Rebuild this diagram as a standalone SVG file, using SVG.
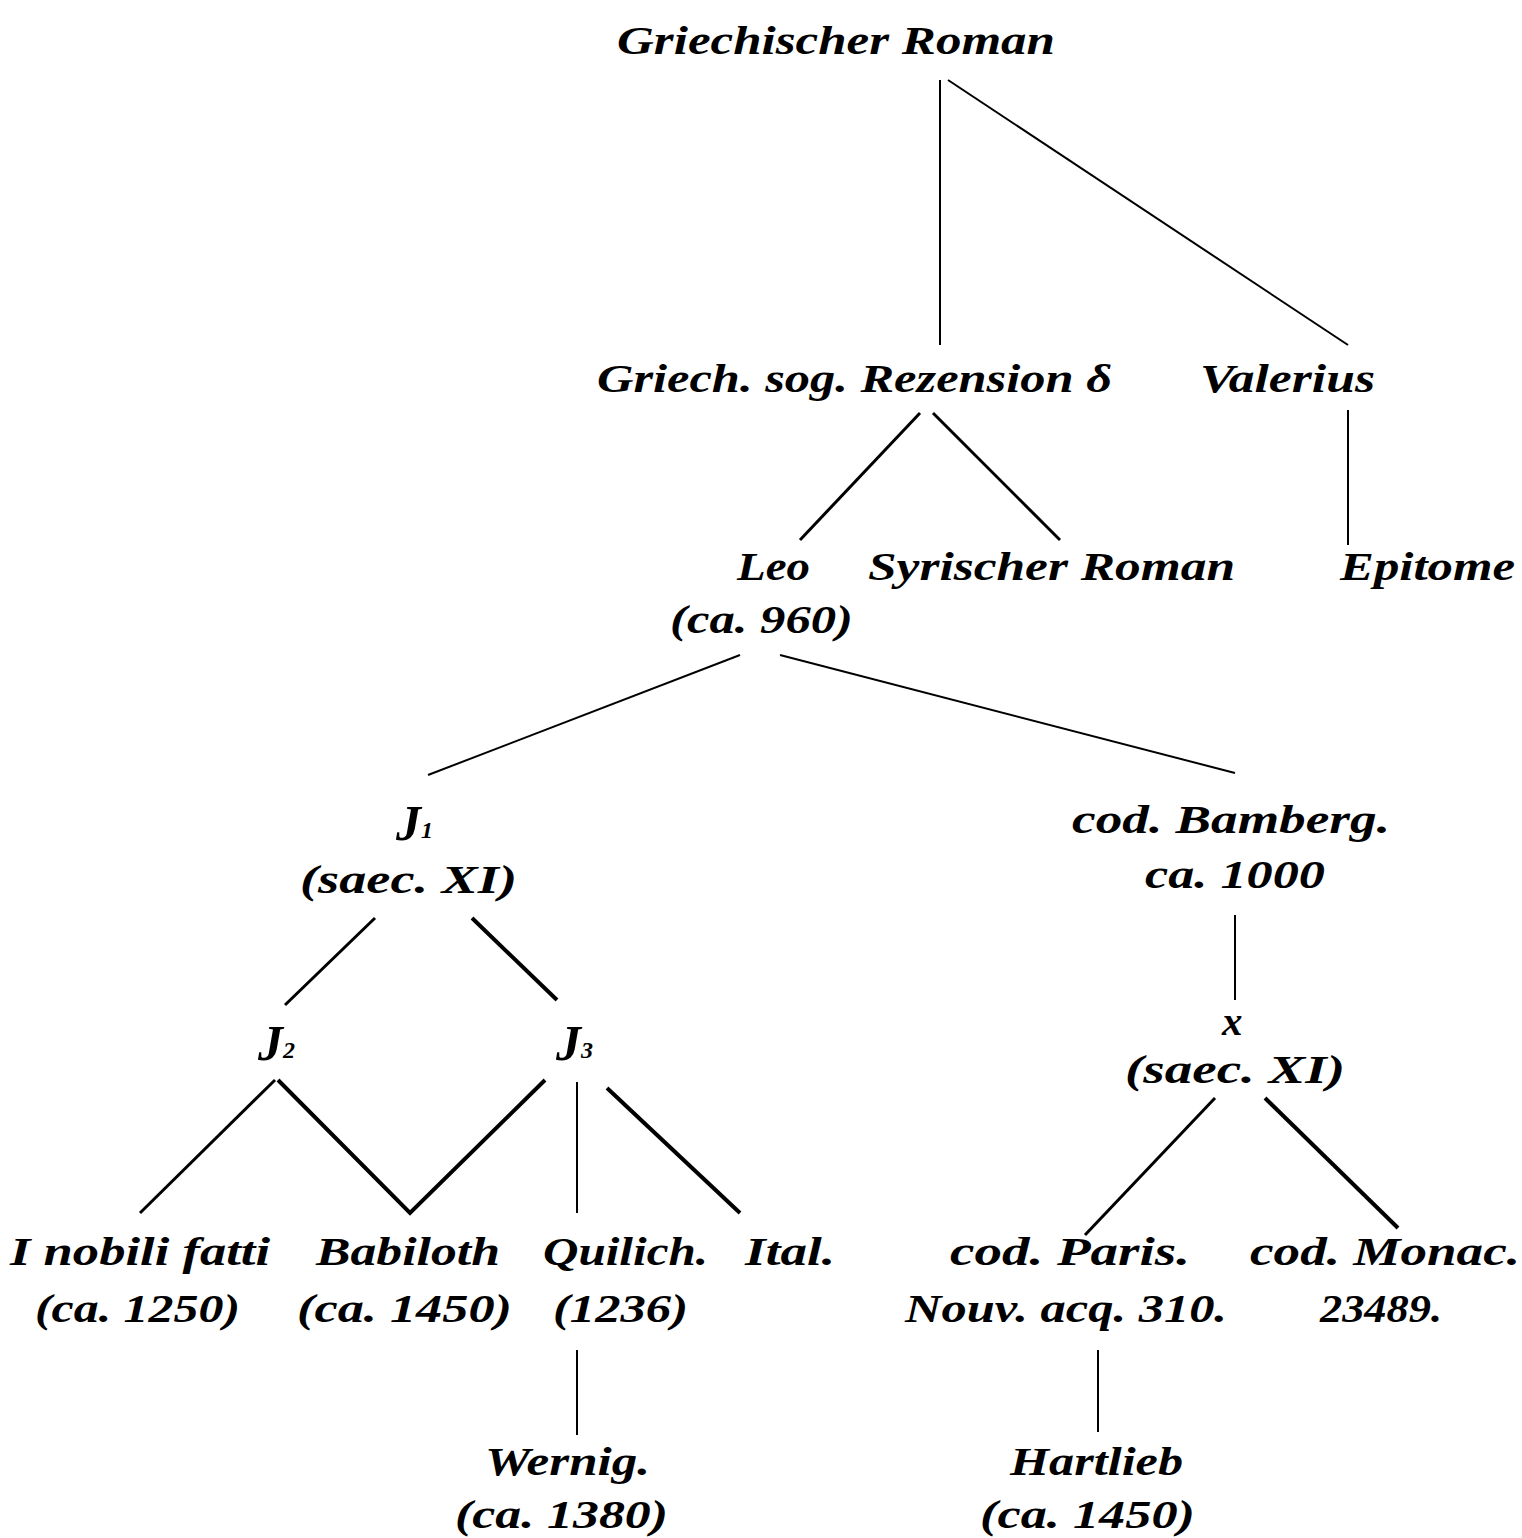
<svg xmlns="http://www.w3.org/2000/svg" width="1522" height="1538" viewBox="0 0 1522 1538">
<style>
text{font-family:"Liberation Serif","DejaVu Serif",serif;font-style:italic;font-weight:bold;font-size:41px;fill:#000}
.j{font-size:50px}
.sub{font-size:24px}
.c line,.c polyline{stroke:#000;fill:none;stroke-linecap:butt}
.t{stroke-width:2}
.m{stroke-width:3}
.k{stroke-width:4}
</style>
<rect width="1522" height="1538" fill="#fff"/>
<g class="c" id="connectors">
<line class="t" x1="940" y1="80" x2="940" y2="345"/>
<line class="t" x1="948" y1="80" x2="1348" y2="345"/>
<line class="t" x1="1348" y1="410" x2="1348" y2="545"/>
<line class="m" x1="920" y1="413" x2="800" y2="540"/>
<line class="m" x1="933" y1="413" x2="1060" y2="540"/>
<line class="t" x1="740" y1="655" x2="428" y2="775"/>
<line class="t" x1="780" y1="655" x2="1235" y2="773"/>
<line class="m" x1="375" y1="918" x2="285" y2="1005"/>
<line class="k" x1="472" y1="918" x2="557" y2="1000"/>
<line class="m" x1="275" y1="1080" x2="140" y2="1213"/>
<polyline class="k" points="278,1080 410,1213 545,1080"/>
<line class="t" x1="577" y1="1082" x2="577" y2="1213"/>
<line class="k" x1="607" y1="1088" x2="740" y2="1213"/>
<line class="t" x1="1235" y1="915" x2="1235" y2="1000"/>
<line class="m" x1="1215" y1="1098" x2="1085" y2="1235"/>
<line class="k" x1="1265" y1="1098" x2="1398" y2="1228"/>
<line class="t" x1="577" y1="1350" x2="577" y2="1435"/>
<line class="t" x1="1098" y1="1350" x2="1098" y2="1432"/>
</g>
<g id="n-griechischer-roman"><text x="617" y="54" textLength="438" lengthAdjust="spacingAndGlyphs">Griechischer Roman</text></g>
<g id="n-rezension"><text x="597" y="392" textLength="515" lengthAdjust="spacingAndGlyphs">Griech. sog. Rezension δ</text></g>
<g id="n-valerius"><text x="1200" y="392" textLength="175" lengthAdjust="spacingAndGlyphs">Valerius</text></g>
<g id="n-leo"><text x="737" y="580" textLength="73" lengthAdjust="spacingAndGlyphs">Leo</text><text x="670" y="633" textLength="183" lengthAdjust="spacingAndGlyphs">(ca. 960)</text></g>
<g id="n-syrischer"><text x="868" y="580" textLength="367" lengthAdjust="spacingAndGlyphs">Syrischer Roman</text></g>
<g id="n-epitome"><text x="1340" y="580" textLength="175" lengthAdjust="spacingAndGlyphs">Epitome</text></g>
<g id="n-j1"><text class="j" x="396" y="840">J<tspan class="sub" dy="-2">1</tspan></text><text x="300" y="893" textLength="217" lengthAdjust="spacingAndGlyphs">(saec. XI)</text></g>
<g id="n-bamberg"><text x="1072" y="833" textLength="318" lengthAdjust="spacingAndGlyphs">cod. Bamberg.</text><text x="1145" y="888" textLength="180" lengthAdjust="spacingAndGlyphs">ca. 1000</text></g>
<g id="n-j2"><text class="j" x="258" y="1060">J<tspan class="sub" dy="-2">2</tspan></text></g>
<g id="n-j3"><text class="j" x="556" y="1060">J<tspan class="sub" dy="-2">3</tspan></text></g>
<g id="n-x"><text x="1222" y="1035" font-size="44">x</text><text x="1125" y="1083" textLength="220" lengthAdjust="spacingAndGlyphs">(saec. XI)</text></g>
<g id="n-nobili"><text x="10" y="1265" textLength="260" lengthAdjust="spacingAndGlyphs">I nobili fatti</text><text x="35" y="1322" textLength="205" lengthAdjust="spacingAndGlyphs">(ca. 1250)</text></g>
<g id="n-babiloth"><text x="316" y="1265" textLength="184" lengthAdjust="spacingAndGlyphs">Babiloth</text><text x="297" y="1322" textLength="215" lengthAdjust="spacingAndGlyphs">(ca. 1450)</text></g>
<g id="n-quilich"><text x="543" y="1265" textLength="165" lengthAdjust="spacingAndGlyphs">Quilich.</text><text x="553" y="1322" textLength="135" lengthAdjust="spacingAndGlyphs">(1236)</text></g>
<g id="n-ital"><text x="745" y="1265" textLength="90" lengthAdjust="spacingAndGlyphs">Ital.</text></g>
<g id="n-paris"><text x="950" y="1265" textLength="240" lengthAdjust="spacingAndGlyphs">cod. Paris.</text><text x="905" y="1322" textLength="322" lengthAdjust="spacingAndGlyphs">Nouv. acq. 310.</text></g>
<g id="n-monac"><text x="1250" y="1265" textLength="270" lengthAdjust="spacingAndGlyphs">cod. Monac.</text><text x="1320" y="1322" textLength="122" lengthAdjust="spacingAndGlyphs">23489.</text></g>
<g id="n-wernig"><text x="485" y="1475" textLength="165" lengthAdjust="spacingAndGlyphs">Wernig.</text><text x="455" y="1528" textLength="213" lengthAdjust="spacingAndGlyphs">(ca. 1380)</text></g>
<g id="n-hartlieb"><text x="1010" y="1475" textLength="173" lengthAdjust="spacingAndGlyphs">Hartlieb</text><text x="980" y="1528" textLength="215" lengthAdjust="spacingAndGlyphs">(ca. 1450)</text></g>
</svg>
